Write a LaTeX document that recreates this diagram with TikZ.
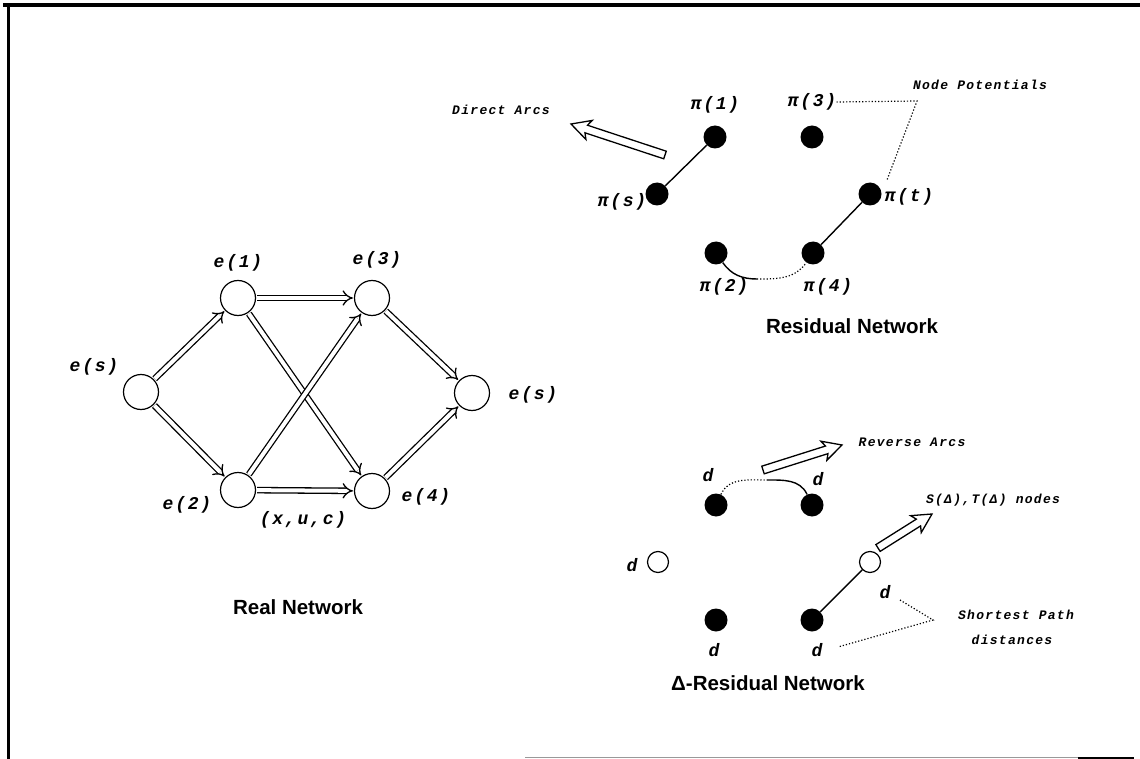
\documentclass[tikz,border=0pt]{standalone}
\usepackage{fontspec}
\setmainfont{Liberation Sans}
\newfontfamily\monofnt{Liberation Mono}[LetterSpace=10]
\usetikzlibrary{arrows.meta,calc}
\newcommand\hollowarrow[2]{%
  \draw[line width=1.3pt, fill=white, line join=miter]
    let \p1=#1, \p2=#2, \n1={atan2(\y2-\y1,\x2-\x1)}, \n2={veclen(\x2-\x1,\y2-\y1)} in
    ($(\p1)+(\n1+90:4pt)$) -- ($(\p1)+(\n1:{\n2-16pt})+(\n1+90:4pt)$)
    -- ($(\p1)+(\n1:{\n2-19pt})+(\n1+90:10pt)$) -- (\p2)
    -- ($(\p1)+(\n1:{\n2-19pt})+(\n1-90:10pt)$) -- ($(\p1)+(\n1:{\n2-16pt})+(\n1-90:4pt)$)
    -- ($(\p1)+(\n1-90:4pt)$) -- cycle;}
\begin{document}
\begin{tikzpicture}[x=1pt,y=-1pt,
  opennode/.style={circle,draw,line width=1.2pt,fill=white,minimum size=35pt,inner sep=0pt},
  blknode/.style={circle,fill=black,minimum size=23pt,inner sep=0pt},
  smallopen/.style={circle,draw,line width=1.2pt,fill=white,minimum size=21pt,inner sep=0pt},
  lbl/.style={font=\monofnt\fontsize{18}{18}\selectfont\bfseries\itshape, inner sep=0pt},
  notetext/.style={font=\monofnt\fontsize{13}{13}\selectfont\bfseries\itshape, inner sep=0pt},
  titletext/.style={font=\fontsize{20.5}{20.5}\selectfont\bfseries, inner sep=0pt},
  realarc/.style={draw, line width=1.3pt, double=white, double distance=4pt, -{Implies}, shorten <=1pt, shorten >=1pt},
  linkline/.style={line width=1.4pt},
  dotline/.style={line width=1.2pt, dash pattern=on 1.2pt off 2pt}
]
\useasboundingbox (0,0) rectangle (1140,759);
% frame
\draw[line width=4pt] (3,5) -- (1140,5);
\draw[line width=3pt] (8,5) -- (8,759);
\draw[line width=1.5pt, black!40] (525,757.5) -- (1078,757.5);
\draw[line width=2pt] (1078,757.5) -- (1134,757.5);

% ---------------- Real network ----------------
\node[opennode] (s)  at (141,392) {};
\node[opennode] (n1) at (238,298) {};
\node[opennode] (n3) at (372,298) {};
\node[opennode] (t)  at (472,393) {};
\node[opennode] (n2) at (238,490) {};
\node[opennode] (n4) at (372,491) {};

\draw[realarc] (s) -- (n1);
\draw[realarc] (s) -- (n2);
\draw[realarc] (n1) -- (n3);
\draw[realarc] (n1) -- (n4);
\draw[realarc] (n2) -- (n3);
\draw[realarc] (n2) -- (n4);
\draw[realarc] (n3) -- (t);
\draw[realarc] (n4) -- (t);

\node[lbl] (les) at (94,367) {e(s)};
\node[lbl] (le1) at (238,263) {e(1)};
\node[lbl] (le3) at (377,260) {e(3)};
\node[lbl] (lte) at (533,395) {e(s)};
\node[lbl] (le2) at (187,505) {e(2)};
\node[lbl] (le4) at (426,497) {e(4)};
\node[lbl] (lxuc) at (303,520) {(x,u,c)};
\node[titletext] (treal) at (298,607) {Real Network};

% ---------------- Residual network ----------------
\node[blknode] (ps) at (657,194) {};
\node[blknode] (p1) at (715,137) {};
\node[blknode] (p3) at (812,137) {};
\node[blknode] (pt) at (870,194) {};
\node[blknode] (p2) at (716,253) {};
\node[blknode] (p4) at (813,253) {};
\coordinate (pm) at (757,279);

\draw[linkline] (ps) -- (p1);
\draw[linkline] (p4) -- (pt);
\draw[linkline] (p2) to[out=-55,in=180] (pm);
\draw[dotline] (pm) to[out=0,in=-125] (p4);

\node[lbl] (lp1) at (715,105) {π(1)};
\node[lbl] (lp3) at (812,102) {π(3)};
\node[lbl] (lps) at (622,202) {π(s)};
\node[lbl] (lpt) at (909,197) {π(t)};
\node[lbl] (lp2) at (724,287) {π(2)};
\node[lbl] (lp4) at (828,287) {π(4)};

\node[notetext] (tnp) at (980,85) {Node Potentials};
\coordinate (npc) at (917,101);
\coordinate (npe) at (887,180);
\draw[dotline] (lp3.east) -- (npc) -- (npe);

\node[notetext] (tda) at (501,110) {Direct Arcs};
\coordinate (datail) at (665,155);
\coordinate (datip) at (571,124);
\hollowarrow{(datail)}{(datip)}

\node[titletext] (tres) at (852,326) {Residual Network};

% ---------------- Delta-residual network ----------------
\node[blknode] (da) at (716,505) {};
\node[blknode] (db) at (812,505) {};
\node[smallopen] (dso) at (658,562) {};
\node[smallopen] (dto) at (870,562) {};
\node[blknode] (dc) at (716,620) {};
\node[blknode] (de) at (812,620) {};
\coordinate (dpk) at (767,480);

\draw[dotline] (da) to[out=65,in=180] (dpk);
\draw[linkline] (dpk) to[out=0,in=115] (db);
\draw[linkline] (de) -- (dto);

\node[lbl] (lda) at (708,475) {d};
\node[lbl] (ldb) at (818,479) {d};
\node[lbl] (ldso) at (632,565) {d};
\node[lbl] (ldto) at (885,592) {d};
\node[lbl] (ldc) at (714,650) {d};
\node[lbl] (lde) at (817,650) {d};

\node[notetext] (tra) at (912,442) {Reverse Arcs};
\coordinate (ratail) at (763,470);
\coordinate (ratip) at (842,445);
\hollowarrow{(ratail)}{(ratip)}

\node[notetext] (tst) at (993,500) {S(Δ),T(Δ) nodes};
\coordinate (sttail) at (878,548);
\coordinate (sttip) at (932,514);
\hollowarrow{(sttail)}{(sttip)}

\node[notetext] (tsp1) at (1016,615) {Shortest Path};
\node[notetext] (tsp2) at (1012,640) {distances};
\coordinate (spv) at (933,620);
\draw[dotline] (ldto) ++(15,8) -- (spv) -- (838,647);

\node[titletext] (tdr) at (768,683) {Δ-Residual Network};
\end{tikzpicture}
\end{document}
